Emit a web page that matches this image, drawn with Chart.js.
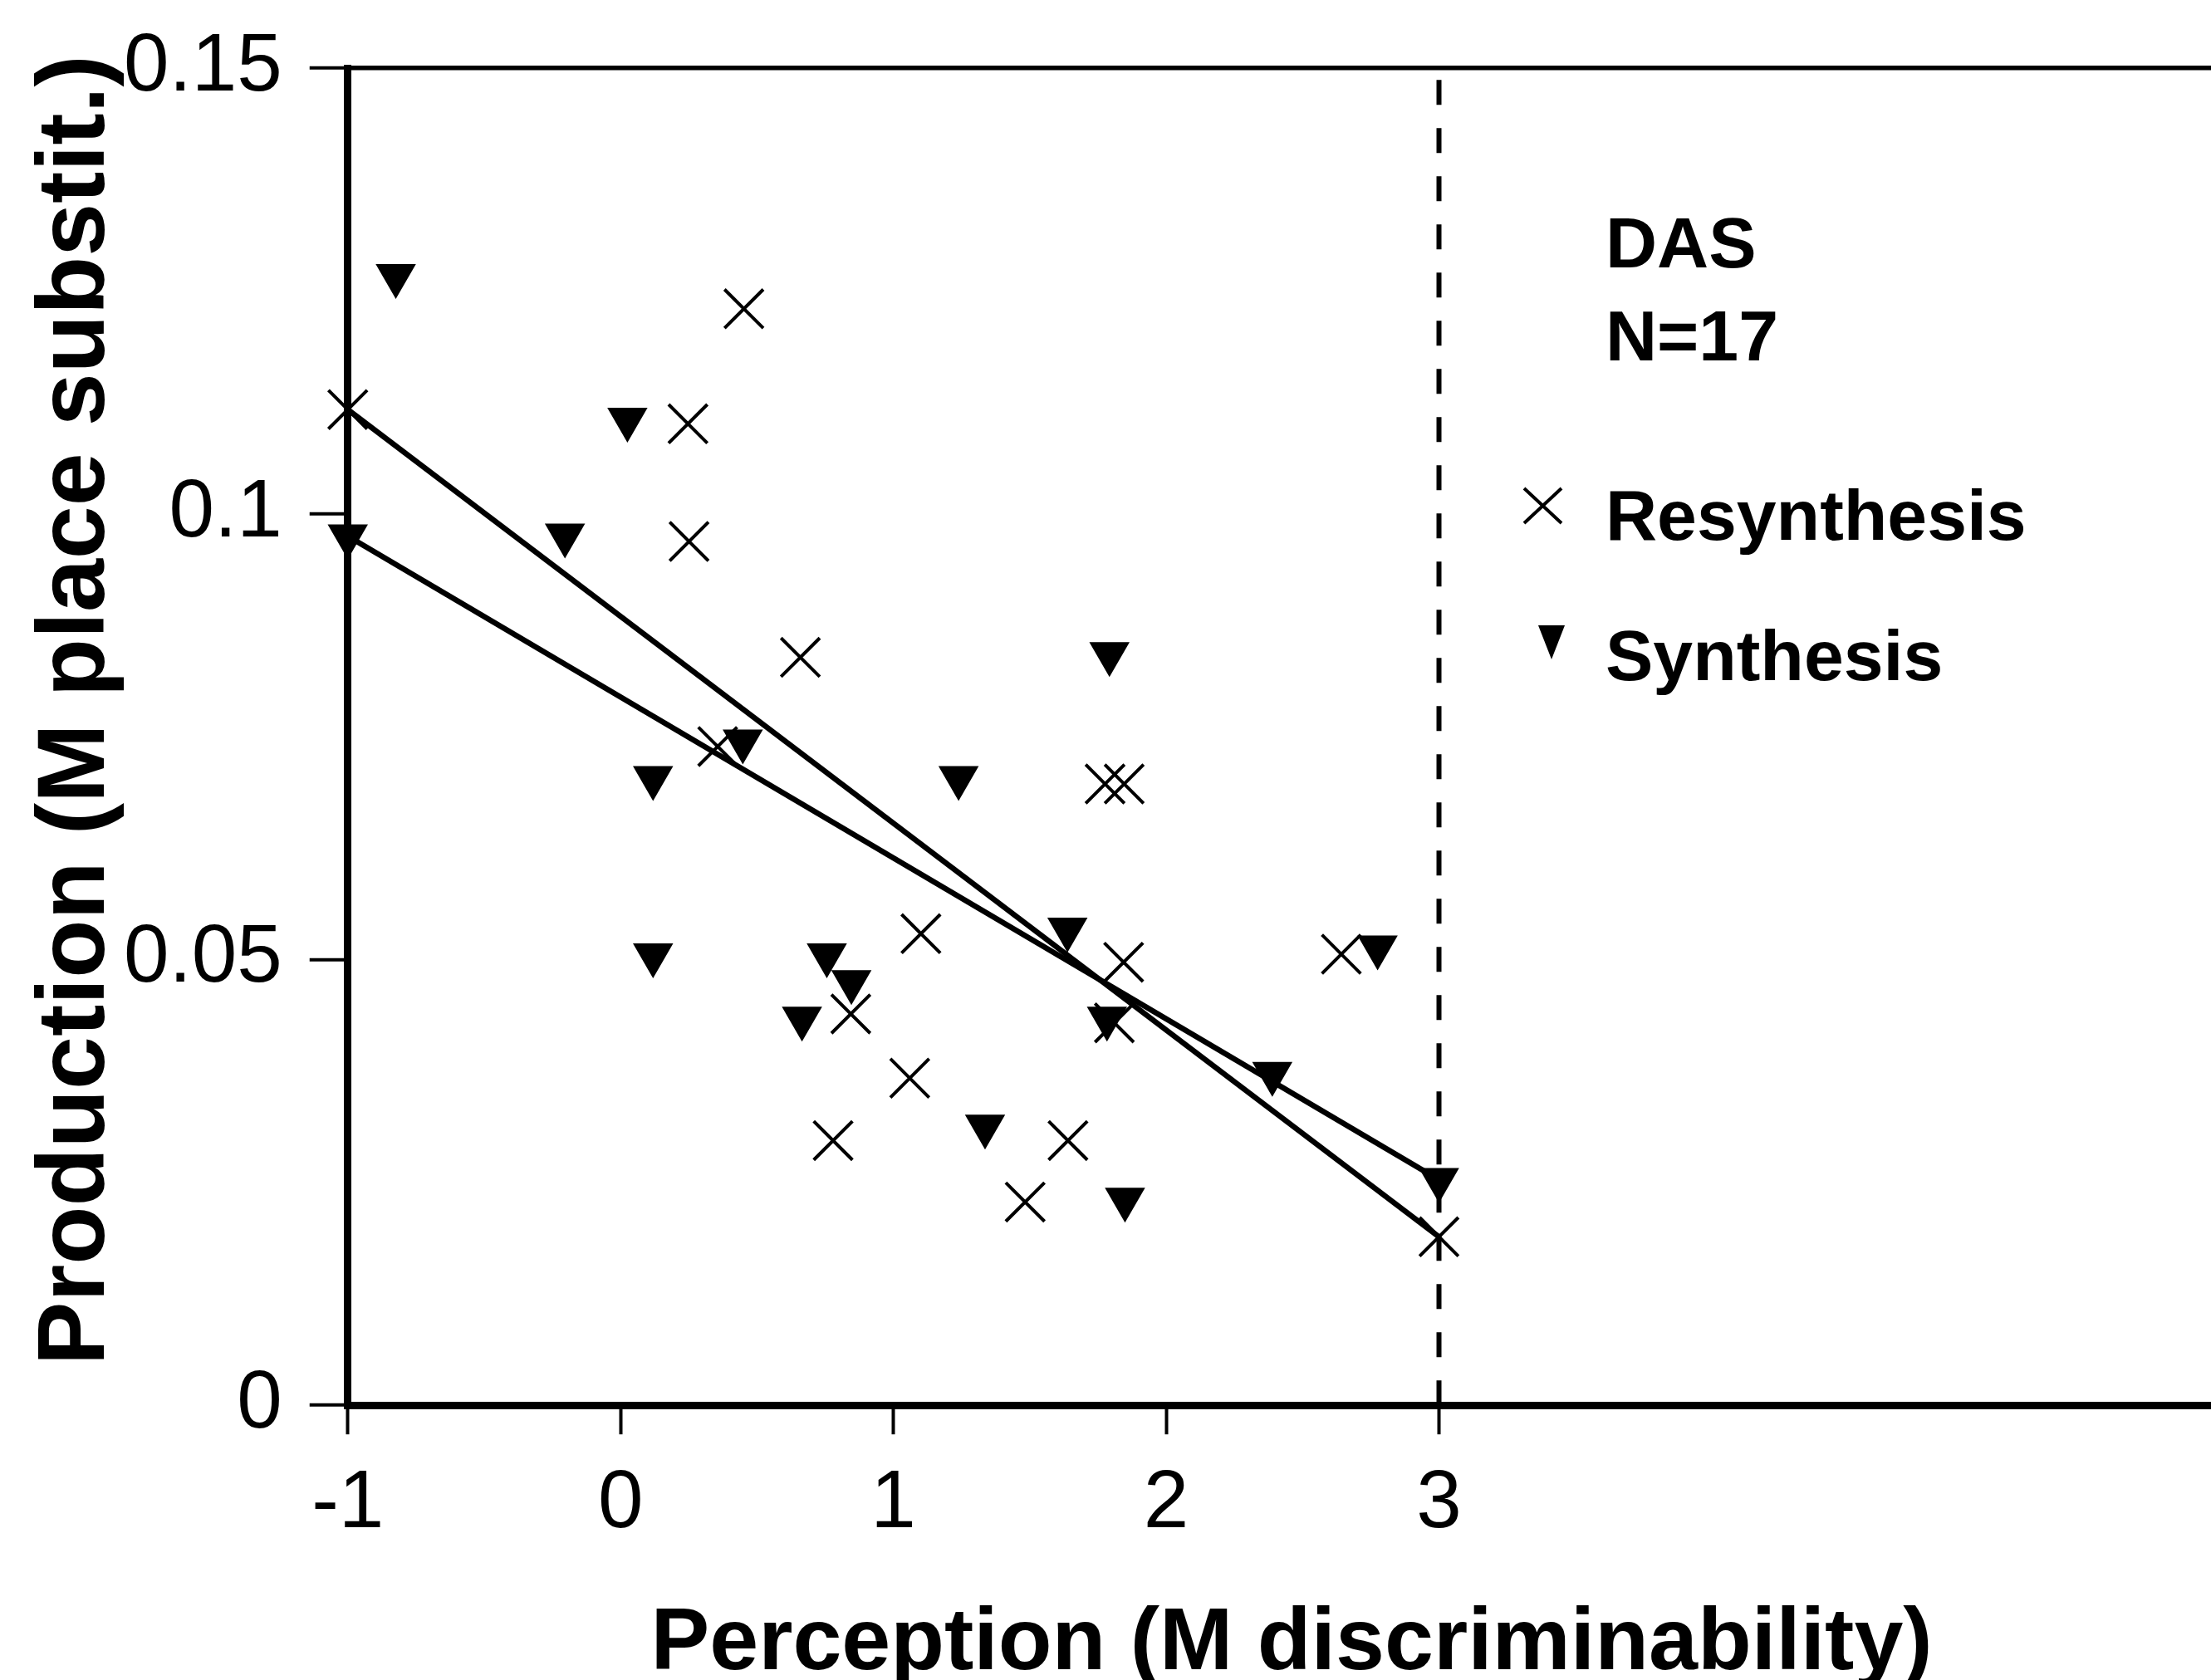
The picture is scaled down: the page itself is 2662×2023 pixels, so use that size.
<!DOCTYPE html>
<html lang="en">
<head>
<meta charset="UTF-8">
<title>DAS - Production vs Perception</title>
<script src="https://cdn.jsdelivr.net/npm/chart.js@4.4.1/dist/chart.umd.min.js"></script>
<style>
  html, body { margin: 0; padding: 0; background: #fff; }
  #wrap { width: 2662px; height: 2023px; }
</style>
</head>
<body>
<div id="wrap"><canvas id="chart" width="2662" height="2023"></canvas></div>
<script>
// tick values on the two axes
const xTicks = [-1, 0, 1, 2, 3];
const yTicks = [0, 0.05, 0.1, 0.15];

// Resynthesis points (crosses)
const resynX = [-1.0, 0.452, 0.247, 0.251, 0.659, 0.356, 1.776, 1.846, 1.101, 1.844, 1.810, 0.844, 1.060, 0.779, 1.640, 1.483, 2.642, 3.0];
const resynY = [0.1117, 0.1230, 0.1101, 0.0969, 0.0839, 0.0739, 0.0697, 0.0697, 0.0529, 0.0497, 0.0429, 0.0439, 0.0367, 0.0297, 0.0297, 0.0228, 0.0506, 0.0189];

// Synthesis points (filled down triangles)
const synthX = [-0.824, 0.025, -1.0, -0.204, 0.448, 0.119, 1.239, 1.792, 0.119, 0.756, 0.846, 0.665, 1.638, 1.783, 1.336, 1.849, 2.389, 2.775, 3.0];
const synthY = [0.1267, 0.1106, 0.0975, 0.0976, 0.0745, 0.0704, 0.0704, 0.0843, 0.0505, 0.0505, 0.0475, 0.0434, 0.0534, 0.0434, 0.0313, 0.0231, 0.0372, 0.0514, 0.0253];

// regression lines (end points)
const resynFitX = [-1, 3];
const resynFitY = [0.1117, 0.0189];
const synthFitX = [-1, 3];
const synthFitY = [0.0975, 0.0253];

// dashed cut-off line
const cutoffX = [3, 3];
const cutoffY = [0, 0.15];

const xMin = -1, xMax = 5.83;
const yMin = 0, yMax = 0.15;

const FONT = '"Liberation Sans", Arial, Helvetica, sans-serif';
Chart.defaults.font.family = FONT;
Chart.defaults.color = '#000';

function toPoints(xs, ys) {
    return xs.map((x, i) => ({ x: x, y: ys[i] }));
}

// legend text + markers drawn inside the plot (top right)
const legendBox = {
    id: 'legendBox',
    afterDraw(chart) {
        const ctx = chart.ctx;
        ctx.save();
        ctx.fillStyle = '#000';
        ctx.strokeStyle = '#000';
        ctx.font = 'bold 86px ' + FONT;
        ctx.textAlign = 'left';
        ctx.textBaseline = 'alphabetic';
        const tx = 1933;
        ctx.fillText('DAS', tx, 322);
        ctx.fillText('N=17', tx, 434);
        ctx.fillText('Resynthesis', tx, 650);
        ctx.fillText('Synthesis', tx, 819);

        // cross marker
        ctx.lineWidth = 4;
        ctx.beginPath();
        ctx.moveTo(1835, 588); ctx.lineTo(1880, 630);
        ctx.moveTo(1880, 588); ctx.lineTo(1835, 630);
        ctx.stroke();

        // narrow down triangle
        ctx.beginPath();
        ctx.moveTo(1852, 753);
        ctx.lineTo(1884, 753);
        ctx.lineTo(1868, 794);
        ctx.closePath();
        ctx.fill();
        ctx.restore();
    }
};

const ctx = document.getElementById('chart').getContext('2d');
new Chart(ctx, {
    type: 'scatter',
    data: {
        datasets: [
            {
                label: 'Resynthesis',
                data: toPoints(resynX, resynY),
                pointStyle: 'crossRot',
                pointRadius: 33,
                borderColor: '#000',
                backgroundColor: '#000',
                pointBorderWidth: 4,
                clip: false
            },
            {
                label: 'Synthesis',
                data: toPoints(synthX, synthY),
                pointStyle: 'triangle',
                rotation: 180,
                pointRadius: 26,
                borderColor: '#000',
                backgroundColor: '#000',
                pointBorderWidth: 2,
                clip: false
            },
            {
                label: 'Resynthesis fit',
                data: toPoints(resynFitX, resynFitY),
                showLine: true,
                pointRadius: 0,
                borderColor: '#000',
                borderWidth: 6.5
            },
            {
                label: 'Synthesis fit',
                data: toPoints(synthFitX, synthFitY),
                showLine: true,
                pointRadius: 0,
                borderColor: '#000',
                borderWidth: 6.5
            },
            {
                label: 'cutoff',
                data: toPoints(cutoffX, cutoffY),
                showLine: true,
                pointRadius: 0,
                borderColor: '#000',
                borderWidth: 6,
                borderDash: [30, 28]
            }
        ]
    },
    options: {
        responsive: false,
        animation: false,
        // no extra room for the big markers: plot runs to the right edge
        layout: { autoPadding: false, padding: { top: 78, right: 0, bottom: 0, left: 0 } },
        plugins: {
            legend: { display: false },
            tooltip: { enabled: false }
        },
        scales: {
            x: {
                type: 'linear',
                min: xMin,
                max: xMax,
                afterBuildTicks: (scale) => { scale.ticks = xTicks.map(v => ({ value: v })); },
                ticks: {
                    font: { size: 98, lineHeight: 1 },
                    color: '#000',
                    padding: 36,
                    maxRotation: 0,
                    autoSkip: false,
                    callback: (v) => String(v)
                },
                grid: {
                    drawOnChartArea: false,
                    tickColor: '#000',
                    tickLength: 35,
                    tickWidth: 4
                },
                border: { color: '#000', width: 9 },
                title: {
                    display: true,
                    text: ' Perception (M discriminability)',
                    color: '#000',
                    font: { size: 106, weight: 'bold', lineHeight: 0.8 },
                    padding: { top: 41, bottom: 0 }
                }
            },
            y: {
                type: 'linear',
                min: yMin,
                max: yMax,
                afterBuildTicks: (scale) => { scale.ticks = yTicks.map(v => ({ value: v })); },
                ticks: {
                    font: { size: 98, lineHeight: 1 },
                    color: '#000',
                    padding: 33,
                    callback: (v) => String(v)
                },
                grid: {
                    drawOnChartArea: true,
                    color: (c) => (c.tick && c.tick.value === yMax) ? '#000' : 'rgba(0,0,0,0)',
                    lineWidth: 5.5,
                    tickColor: '#000',
                    tickLength: 46,
                    tickWidth: 4
                },
                border: { color: '#000', width: 9 },
                title: {
                    display: true,
                    text: '  Production (M place substit.)',
                    color: '#000',
                    font: { size: 115, weight: 'bold', lineHeight: 1 },
                    padding: { top: 36, bottom: -35 }
                }
            }
        }
    },
    plugins: [legendBox]
});
</script>
</body>
</html>
